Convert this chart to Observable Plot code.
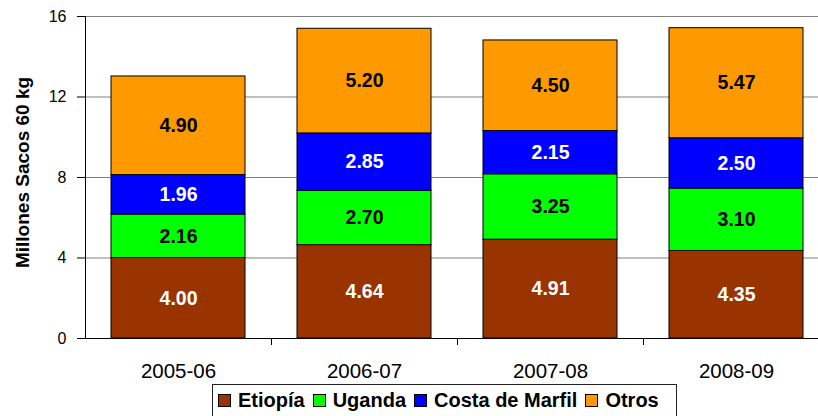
<!DOCTYPE html>
<html>
<head>
<meta charset="utf-8">
<script src="https://cdn.jsdelivr.net/npm/d3@7"></script>
<script src="https://cdn.jsdelivr.net/npm/@observablehq/plot@0.6"></script>
<style>
  html, body { margin: 0; padding: 0; background: #fff; overflow: hidden; }
  body { width: 818px; height: 416px; position: relative; font-family: Arial, "Liberation Sans", sans-serif; }
  #title { position: absolute; left: 0; width: 890px; top: -20px; text-align: center; font-weight: bold; font-size: 22px; line-height: 22px; color: #000; white-space: nowrap; }
  #chart { position: absolute; left: 0; top: 0; }
  #legend { position: absolute; left: 212px; top: 384px; width: 465px; height: 40px; border: 1px solid #222; box-sizing: border-box; display: flex; align-items: flex-start; padding: 4px 0 0 5px; font-weight: bold; font-size: 20px; line-height: 22px; white-space: nowrap; }
  .item { display: flex; align-items: center; margin-right: 8px; }
  .sw { width: 11px; height: 11px; border: 1px solid #000; margin-right: 7px; }
</style>
</head>
<body>
<div id="title">Producción de Café Robusta en África</div>
<div id="chart"></div>
<div id="legend"></div>
<script>
const categories = ["2005-06", "2006-07", "2007-08", "2008-09"];
const seriesNames = ["Etiopía", "Uganda", "Costa de Marfil", "Otros"];
const etiopia = [4.00, 4.64, 4.91, 4.35];
const uganda = [2.16, 2.70, 3.25, 3.10];
const costaDeMarfil = [1.96, 2.85, 2.15, 2.50];
const otros = [4.90, 5.20, 4.50, 5.47];
const seriesColors = ["#993300", "#00ff00", "#0000ff", "#ff9900"];
const labelColors = ["#ffffff", "#000000", "#ffffff", "#000000"];
const yTicks = [0, 4, 8, 12, 16];
const yLabel = "Millones Sacos 60 kg";

const seriesValues = [etiopia, uganda, costaDeMarfil, otros];
const rows = [];
categories.forEach((cat, ci) => {
  let base = 0;
  seriesNames.forEach((s, si) => {
    const v = seriesValues[si][ci];
    rows.push({cat, series: s, value: v, base, labelColor: labelColors[si]});
    base += v;
  });
});

const font = 'Arial, "Liberation Sans", sans-serif';
const chart = Plot.plot({
  width: 818,
  height: 382,
  marginLeft: 85,
  marginRight: 0,
  marginTop: 16,
  marginBottom: 44,
  style: {fontFamily: font, fontSize: "16px", color: "#000", background: "transparent"},
  x: {domain: categories, range: [85, 829], paddingInner: 0.28, paddingOuter: 0.14, align: 0.5, label: null},
  y: {domain: [0, 16], label: null},
  color: {domain: seriesNames, range: seriesColors},
  marks: [
    Plot.gridY(yTicks.filter(d => d > 0), {stroke: "#808080", strokeOpacity: 1, strokeWidth: 1}),
    Plot.barY(rows, Plot.stackY({x: "cat", y: "value", z: "series", fill: "series", stroke: "#000", strokeWidth: 1})),
    Plot.text(rows.filter(d => d.labelColor === "#ffffff"), {x: "cat", y: d => d.base + d.value / 2, text: d => d.value.toFixed(2), fill: "#ffffff", fontWeight: "bold", fontSize: 19.5}),
    Plot.text(rows.filter(d => d.labelColor === "#000000"), {x: "cat", y: d => d.base + d.value / 2, text: d => d.value.toFixed(2), fill: "#000000", fontWeight: "bold", fontSize: 19.5}),
    Plot.axisY({ticks: yTicks, tickSize: 8, tickPadding: 11, label: null, fontSize: 16, stroke: "#000"}),
    Plot.axisX({tickSize: 0, tickPadding: 25, label: null, fontSize: 20.5}),
    Plot.ruleX(categories, {x: d => d, y1: 0, y2: 0, insetBottom: -7, dx: 93, stroke: "#000"}),
    Plot.ruleY([0], {stroke: "#000"}),
    Plot.frame({anchor: "left", stroke: "#000"}),
    Plot.text([yLabel], {frameAnchor: "left", rotate: -90, dx: -63, dy: -5, textAnchor: "middle", fontWeight: "bold", fontSize: 19, text: d => d, fill: "#000"})
  ]
});
document.getElementById("chart").appendChild(chart);

const legend = document.getElementById("legend");
seriesNames.forEach((s, i) => {
  const it = document.createElement("div");
  it.className = "item";
  const sw = document.createElement("div");
  sw.className = "sw";
  sw.style.background = seriesColors[i];
  const t = document.createElement("span");
  t.textContent = s;
  it.appendChild(sw);
  it.appendChild(t);
  legend.appendChild(it);
});
</script>
</body>
</html>
